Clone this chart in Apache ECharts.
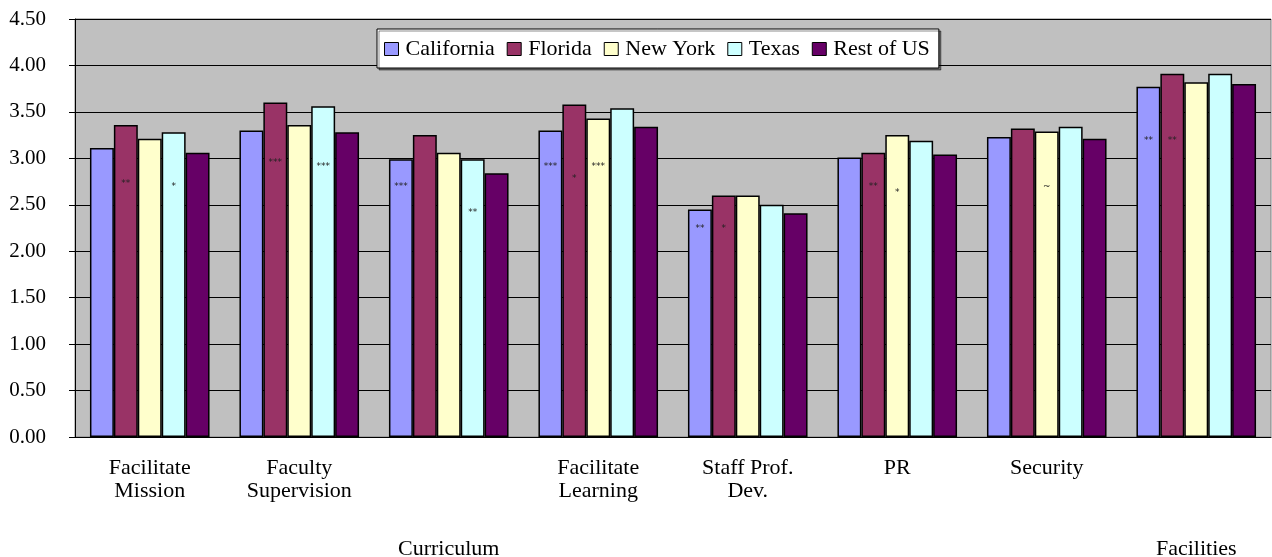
<!DOCTYPE html>
<html>
<head>
<meta charset="utf-8">
<script src="https://cdn.jsdelivr.net/npm/echarts@6/dist/echarts.min.js"></script>
<style>
  html, body { margin: 0; padding: 0; background: #fff; }
  #chart { width: 1272px; height: 557px; }
</style>
</head>
<body>
<div id="chart"></div>
<script>
const categories = ['Facilitate\nMission', 'Faculty\nSupervision', 'Curriculum', 'Facilitate\nLearning', 'Staff Prof.\nDev.', 'PR', 'Security', 'Facilities']
// labels that Excel pushed down to a lower row
const loweredLabels = ['Curriculum', 'Facilities']

const seriesNames = ['California', 'Florida', 'New York', 'Texas', 'Rest of US']
const california = [3.11, 3.30, 2.99, 3.30, 2.45, 3.01, 3.23, 3.77]
const florida = [3.36, 3.60, 3.25, 3.58, 2.60, 3.06, 3.32, 3.91]
const newYork = [3.21, 3.36, 3.06, 3.43, 2.60, 3.25, 3.29, 3.82]
const texas = [3.28, 3.56, 2.99, 3.54, 2.50, 3.19, 3.34, 3.91]
const restOfUS = [3.06, 3.28, 2.84, 3.34, 2.41, 3.04, 3.21, 3.80]

// significance marks and the value level where each one sits
const sigCalifornia = ['', '', '***', '***', '**', '', '', '**']
const sigCaliforniaAt = [null, null, 2.69, 2.91, 2.24, null, null, 3.19]
const sigFlorida = ['**', '***', '', '*', '*', '**', '', '**']
const sigFloridaAt = [2.73, 2.95, null, 2.78, 2.24, 2.69, null, 3.19]
const sigNewYork = ['', '', '', '***', '', '*', '~', '']
const sigNewYorkAt = [null, null, null, 2.91, null, 2.63, 2.70, null]
const sigTexas = ['*', '***', '**', '', '', '', '', '']
const sigTexasAt = [2.69, 2.91, 2.41, null, null, null, null, null]
const sigRest = ['', '', '', '', '', '', '', '']
const sigRestAt = [null, null, null, null, null, null, null, null]

const yMin = 0
const yMax = 4.5
const yStep = 0.5

const seriesValues = [california, florida, newYork, texas, restOfUS]
const seriesSig = [sigCalifornia, sigFlorida, sigNewYork, sigTexas, sigRest]
const seriesSigAt = [sigCaliforniaAt, sigFloridaAt, sigNewYorkAt, sigTexasAt, sigRestAt]
const colors = ['#9999FF', '#993366', '#FFFFCC', '#CCFFFF', '#660066']

const font = '"Liberation Serif", "Times New Roman", serif'

const chart = echarts.init(document.getElementById('chart'))

// build the mark points for one series
const marksFor = (i) => {
  const out = []
  seriesSig[i].forEach((txt, k) => {
    if (txt) out.push({ coord: [k, seriesSigAt[i][k]], value: txt })
  })
  return out
}

chart.setOption({
  backgroundColor: '#fff',
  animation: false,
  color: colors,
  grid: {
    left: 75,
    right: 1,
    top: 19,
    bottom: 120,
    outerBoundsMode: 'none',
    containLabel: false,
    show: true,
    backgroundColor: '#C0C0C0',
    borderColor: '#808080',
    borderWidth: 1,
  },
  legend: {
    data: seriesNames,
    left: 377,
    top: 29,
    padding: [9, 9, 8, 7],
    itemGap: 12,
    itemWidth: 14,
    itemHeight: 13,
    icon: 'rect',
    backgroundColor: '#fff',
    borderColor: '#000',
    borderWidth: 1,
    shadowColor: 'rgba(0,0,0,0.45)',
    shadowOffsetX: 2,
    shadowOffsetY: 2,
    itemStyle: { borderColor: '#000', borderWidth: 1 },
    textStyle: { fontFamily: font, fontSize: 22, color: '#000', padding: [0, 0, 0, 2] },
  },
  xAxis: {
    type: 'category',
    data: categories,
    axisLine: { lineStyle: { color: '#000', width: 1 } },
    axisTick: { show: false },
    axisLabel: {
      interval: 0,
      margin: 20,
      fontFamily: font,
      fontSize: 22,
      lineHeight: 23,
      color: '#000',
      formatter: (value) => loweredLabels.includes(value) ? '{gap| }\n' + value : value,
      rich: {
        gap: { height: 81, lineHeight: 81 },
      },
    },
  },
  yAxis: {
    type: 'value',
    min: yMin,
    max: yMax,
    interval: yStep,
    axisLine: { show: true, lineStyle: { color: '#000', width: 1 } },
    axisTick: { show: true, length: 6, lineStyle: { color: '#000' } },
    splitLine: { show: true, lineStyle: { color: '#000', width: 1 } },
    axisLabel: {
      margin: 29,
      fontFamily: font,
      fontSize: 21,
      color: '#000',
      formatter: (v) => v.toFixed(2),
    },
  },
  series: seriesNames.map((name, i) => ({
    name,
    type: 'bar',
    data: seriesValues[i],
    barGap: '0%',
    barCategoryGap: '20%',
    itemStyle: { borderColor: '#000', borderWidth: 1.5 },
    markPoint: {
      symbol: 'circle',
      symbolSize: 0,
      silent: true,
      label: {
        show: true,
        position: 'inside',
        fontFamily: 'DejaVu Sans, sans-serif',
        fontSize: 9,
        color: '#222',
        formatter: (p) => p.value,
      },
      data: marksFor(i),
    },
  })),
})
</script>
</body>
</html>
